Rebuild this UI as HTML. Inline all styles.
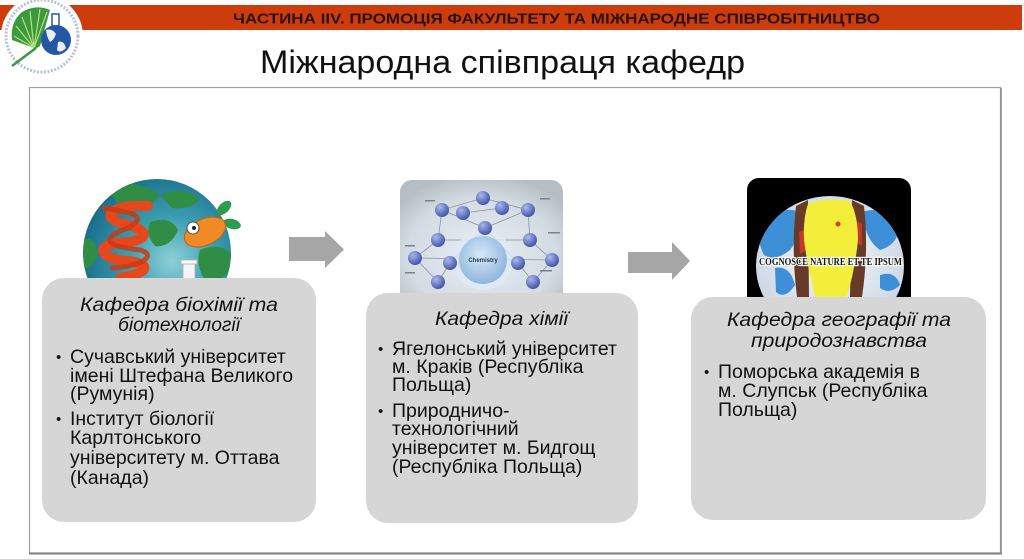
<!DOCTYPE html>
<html>
<head>
<meta charset="utf-8">
<style>
  html,body{margin:0;padding:0;background:#fff;overflow:hidden;}
  svg{display:block;}
  .t{font-family:"Liberation Sans","DejaVu Sans",sans-serif;}
</style>
</head>
<body>
<svg width="1024" height="559" viewBox="0 0 1024 559" xmlns="http://www.w3.org/2000/svg">
  <defs>
    <radialGradient id="globe1" cx="0.6" cy="0.55" r="0.6">
      <stop offset="0" stop-color="#8fd0d6"/>
      <stop offset="0.5" stop-color="#3a9db0"/>
      <stop offset="1" stop-color="#1c6f8c"/>
    </radialGradient>
    <clipPath id="c1"><circle cx="157" cy="253" r="74"/></clipPath>
    <radialGradient id="chem" cx="0.5" cy="0.6" r="0.65">
      <stop offset="0" stop-color="#e8eef4"/>
      <stop offset="0.7" stop-color="#d3dbe3"/>
      <stop offset="1" stop-color="#b5bdc5"/>
    </radialGradient>
    <radialGradient id="chemc" cx="0.45" cy="0.4" r="0.6">
      <stop offset="0" stop-color="#d6e8f8"/>
      <stop offset="1" stop-color="#8fb6dd"/>
    </radialGradient>
    <radialGradient id="sph" cx="0.35" cy="0.3" r="0.7">
      <stop offset="0" stop-color="#a9b8ee"/>
      <stop offset="1" stop-color="#4457a8"/>
    </radialGradient>
    <radialGradient id="globe3" cx="0.5" cy="0.45" r="0.6">
      <stop offset="0" stop-color="#f6f8fb"/>
      <stop offset="1" stop-color="#c7d3e2"/>
    </radialGradient>
    <clipPath id="c3"><ellipse cx="830" cy="266" rx="74" ry="70"/></clipPath>
    <clipPath id="logoc"><circle cx="56" cy="40" r="15"/></clipPath>
  </defs>

  <rect width="1024" height="559" fill="#fff"/>

  <!-- Banner -->
  <rect x="0" y="5" width="1022" height="25" fill="#cd3c0d"/>
  <text class="t" x="233" y="23.5" font-size="15" font-weight="bold" fill="#2a1208" textLength="647" lengthAdjust="spacingAndGlyphs">ЧАСТИНА IIV. ПРОМОЦІЯ ФАКУЛЬТЕТУ ТА МІЖНАРОДНЕ СПІВРОБІТНИЦТВО</text>

  <!-- Logo -->
  <circle cx="42" cy="36" r="41" fill="#fff"/>
  <circle cx="42" cy="36" r="36" fill="none" stroke="#7d8fb8" stroke-width="3" stroke-dasharray="2 1.5" opacity="0.55"/>
  <path d="M14,63 L34,48 L12,40 Q10,22 22,12 Q36,4 50,10 L40,46 Z" fill="#3b9a3f"/>
  <path d="M34,48 L14,36 M34,48 L16,26 M34,48 L22,17 M34,48 L30,11 M34,48 L40,9 M34,48 L47,12" stroke="#b6e07a" stroke-width="1.2"/>
  <path d="M12,66 L36,48" stroke="#3b9a3f" stroke-width="2.5"/>
  <rect x="52" y="14" width="7" height="14" fill="#fff" stroke="#2458a6" stroke-width="1.5"/>
  <circle cx="56" cy="40" r="15" fill="#2458a6"/>
  <g clip-path="url(#logoc)">
    <path d="M46,30 Q52,28 56,34 Q54,40 50,42 Q47,38 46,30 Z" fill="#e8f0ff"/>
    <path d="M58,42 Q64,40 66,48 Q60,54 57,50 Z" fill="#e8f0ff"/>
  </g>

  <!-- Title -->
  <text class="t" x="260" y="73" font-size="32" fill="#111" textLength="485" lengthAdjust="spacingAndGlyphs">Міжнародна співпраця кафедр</text>

  <!-- Content frame -->
  <rect x="29.5" y="87.5" width="971" height="465.5" fill="none" stroke="#a0a0a0" stroke-width="1.2"/>
  <line x1="29" y1="553.5" x2="1002" y2="553.5" stroke="#808080" stroke-width="2"/>
  <line x1="1001" y1="88" x2="1001" y2="554" stroke="#8a8a8a" stroke-width="1.5"/>

  <!-- Image 1: globe with DNA & fish -->
  <circle cx="157" cy="253" r="74" fill="url(#globe1)"/>
  <g clip-path="url(#c1)">
    <path d="M110,185 Q140,180 160,195 Q150,210 130,212 Q112,205 110,185 Z" fill="#2f8d46"/>
    <path d="M150,222 Q170,215 178,230 Q170,248 155,246 Q145,235 150,222 Z" fill="#2f8d46"/>
    <path d="M200,250 Q225,240 235,260 Q225,285 205,280 Q195,265 200,250 Z" fill="#2f8d46"/>
    <path d="M160,195 Q185,185 200,200 Q190,210 172,208 Z" fill="#2f8d46"/>
    <path d="M83,240 Q95,235 98,255 Q92,270 84,268 Z" fill="#2f8d46"/>
  </g>
  <path d="M148,206 C110,204 98,218 125,224 C152,231 150,241 118,243 C94,246 100,259 128,261 C152,264 150,273 120,278" fill="none" stroke="#e5481c" stroke-width="10" stroke-linecap="round"/>
  <path d="M104,208 C130,212 150,216 128,228 C100,238 104,246 140,250 C156,254 146,266 112,268" fill="none" stroke="#c93a16" stroke-width="5" stroke-linecap="round" opacity="0.85"/>
  <ellipse cx="224" cy="208" rx="9" ry="5" transform="rotate(-45 224 208)" fill="#2e9b4f"/>
  <ellipse cx="232" cy="224" rx="9" ry="5" transform="rotate(15 232 224)" fill="#2e9b4f"/>
  <ellipse cx="205" cy="232" rx="22" ry="13" transform="rotate(-25 205 232)" fill="#ef8a26" stroke="#b9601a" stroke-width="1"/>
  <circle cx="193" cy="228" r="6" fill="#fff" stroke="#333" stroke-width="0.8"/>
  <circle cx="194" cy="228" r="2" fill="#222"/>
  <rect x="183" y="263" width="12" height="20" fill="#f4f4f4" stroke="#b0b0b0" stroke-width="0.8"/>
  <rect x="181" y="260" width="16" height="4" fill="#fafafa" stroke="#b0b0b0" stroke-width="0.8"/>

  <!-- Arrow 1 -->
  <polygon points="289,237 325,237 325,231 344,249.5 325,268 325,261 289,261" fill="#a6a6a6"/>

  <!-- Image 2: chemistry -->
  <rect x="400" y="180" width="163" height="125" rx="12" fill="url(#chem)"/>
  <g stroke="#8a929c" stroke-width="0.8" fill="none">
    <polygon points="483,198 528,210 530,240 552,260 533,282 518,263 485,228 450,263 438,282 415,258 438,240 442,210"/>
    <line x1="463" y1="213" x2="502" y2="208"/>
    <line x1="442" y1="210" x2="485" y2="228"/>
    <line x1="528" y1="210" x2="485" y2="228"/>
    <line x1="438" y1="240" x2="530" y2="240"/>
    <line x1="415" y1="258" x2="552" y2="260"/>
  </g>
  <circle cx="483" cy="260" r="30" fill="#dfeaf5" opacity="0.8"/>
  <circle cx="483" cy="260" r="24" fill="url(#chemc)"/>
  <text class="t" x="483" y="262" font-size="6" font-weight="bold" fill="#2d3a55" text-anchor="middle">Chemistry</text>
  <g fill="url(#sph)">
    <circle cx="483" cy="198" r="7"/>
    <circle cx="442" cy="210" r="7"/>
    <circle cx="463" cy="213" r="7"/>
    <circle cx="502" cy="208" r="7"/>
    <circle cx="528" cy="210" r="7"/>
    <circle cx="485" cy="228" r="7"/>
    <circle cx="438" cy="240" r="7"/>
    <circle cx="530" cy="240" r="7"/>
    <circle cx="415" cy="258" r="7"/>
    <circle cx="450" cy="263" r="7"/>
    <circle cx="518" cy="263" r="7"/>
    <circle cx="552" cy="260" r="7"/>
    <circle cx="438" cy="282" r="7"/>
    <circle cx="533" cy="282" r="7"/>
  </g>
  <g fill="#7a828c">
    <rect x="425" y="200" width="10" height="1.5"/>
    <rect x="540" y="198" width="10" height="1.5"/>
    <rect x="405" y="245" width="10" height="1.5"/>
    <rect x="548" y="232" width="12" height="1.5"/>
    <rect x="540" y="270" width="12" height="1.5"/>
    <rect x="405" y="272" width="10" height="1.5"/>
  </g>

  <!-- Arrow 2 -->
  <polygon points="628,252 672,252 672,242 690,261 672,280 672,273 628,273" fill="#a6a6a6"/>

  <!-- Image 3: Cognosce globe -->
  <rect x="747" y="178" width="164" height="130" rx="12" fill="#000"/>
  <ellipse cx="830" cy="266" rx="74" ry="70" fill="url(#globe3)"/>
  <g clip-path="url(#c3)">
    <path d="M760,220 Q780,205 800,212 Q802,235 790,250 Q775,262 764,255 Q756,240 760,220 Z" fill="#3d8fd8"/>
    <path d="M775,268 Q790,265 795,285 Q785,300 776,292 Z" fill="#3d8fd8"/>
    <path d="M862,212 Q885,205 900,225 Q898,245 880,250 Q865,240 862,212 Z" fill="#3d8fd8"/>
    <path d="M880,275 Q895,270 900,285 Q890,295 880,288 Z" fill="#3d8fd8"/>
    <path d="M796,206 L808,200 L809,297 L797,297 Q791,250 796,206 Z" fill="#6a3a28"/>
    <path d="M852,200 L864,206 Q869,250 862,297 L850,297 Z" fill="#6a3a28"/>
    <path d="M799,232 L807,228 L807,250 L800,254 Z" fill="#c0392b"/>
    <path d="M855,220 L862,224 L862,246 L855,242 Z" fill="#c0392b"/>
    <path d="M808,204 Q826,197 850,201 Q858,215 858,240 Q855,270 846,300 L816,300 Q808,270 804,240 Q803,218 808,204 Z" fill="#f3ee3a"/>
  </g>
  <circle cx="838" cy="224" r="2.5" fill="#e03a2a"/>
  <text x="759" y="265" font-family="'Liberation Serif','DejaVu Serif',serif" font-size="11" font-weight="bold" fill="#111" stroke="#fff" stroke-width="2.2" paint-order="stroke" textLength="143" lengthAdjust="spacingAndGlyphs">COGNOSCE NATURE ET TE IPSUM</text>

  <!-- Boxes -->
  <rect x="42" y="278" width="274" height="244" rx="22" fill="#d6d6d6"/>
  <rect x="366" y="293" width="272" height="230" rx="22" fill="#d6d6d6"/>
  <rect x="691" y="297" width="295" height="223" rx="22" fill="#d6d6d6"/>

  <!-- Box 1 text -->
  <g class="t" fill="#111">
    <text x="80" y="311" font-size="19.5" font-style="italic" textLength="198" lengthAdjust="spacingAndGlyphs">Кафедра біохімії та</text>
    <text x="118" y="331" font-size="19.5" font-style="italic" textLength="122" lengthAdjust="spacingAndGlyphs">біотехнології</text>
    <g font-size="19.5">
      <text x="56" y="362" font-size="15">•</text>
      <text x="70" y="363">Сучавський університет</text>
      <text x="70" y="382">імені Штефана Великого</text>
      <text x="70" y="400">(Румунія)</text>
      <text x="56" y="424" font-size="15">•</text>
      <text x="70" y="425">Інститут біології</text>
      <text x="70" y="444">Карлтонського</text>
      <text x="70" y="464">університету м. Оттава</text>
      <text x="70" y="484">(Канада)</text>
    </g>
  </g>

  <!-- Box 2 text -->
  <g class="t" fill="#111">
    <text x="435" y="325" font-size="19.5" font-style="italic" textLength="133" lengthAdjust="spacingAndGlyphs">Кафедра хімії</text>
    <g font-size="19.5">
      <text x="378" y="354" font-size="15">•</text>
      <text x="392" y="355">Ягелонський університет</text>
      <text x="392" y="373">м. Краків (Республіка</text>
      <text x="392" y="391">Польща)</text>
      <text x="378" y="416" font-size="15">•</text>
      <text x="392" y="417">Природничо-</text>
      <text x="392" y="435">технологічний</text>
      <text x="392" y="454">університет м. Бидгощ</text>
      <text x="392" y="473">(Республіка Польща)</text>
    </g>
  </g>

  <!-- Box 3 text -->
  <g class="t" fill="#111">
    <text x="727" y="326" font-size="19.5" font-style="italic" textLength="224" lengthAdjust="spacingAndGlyphs">Кафедра географії та</text>
    <text x="751" y="347" font-size="19.5" font-style="italic" textLength="176" lengthAdjust="spacingAndGlyphs">природознавства</text>
    <g font-size="19.5">
      <text x="704" y="377" font-size="15">•</text>
      <text x="718" y="378">Поморська академія в</text>
      <text x="718" y="397">м. Слупськ (Республіка</text>
      <text x="718" y="416">Польща)</text>
    </g>
  </g>
</svg>
</body>
</html>
